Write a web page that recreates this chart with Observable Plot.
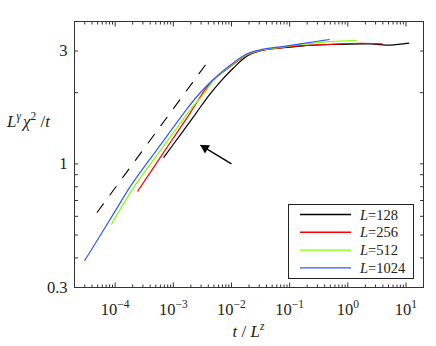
<!DOCTYPE html>
<html><head><meta charset="utf-8">
<script src="https://cdn.jsdelivr.net/npm/d3@7"></script>
<script src="https://cdn.jsdelivr.net/npm/@observablehq/plot@0.6"></script>
<style>body{margin:0;background:#fff} svg{display:block}</style>
</head><body><div id="chart"></div>
<script>
const seriesNames = ["128", "256", "512", "1024"];
const seriesColors = ["#000000", "#ff0000", "#80ff00", "#3355ff"];

const x128 = [6.86e-4, 1.33e-3, 2.4e-3, 4.07e-3, 6.47e-3, 1.08e-2, 1.86e-2, 3.59e-2, 6.95e-2, 0.153, 0.504, 2.45, 5.4, 11.2];
const y128 = [1.066, 1.33, 1.624, 1.945, 2.229, 2.542, 2.858, 3.03, 3.09, 3.15, 3.197, 3.216, 3.18, 3.24];
const x256 = [2.45e-4, 4.94e-4, 1e-3, 1.97e-3, 3.43e-3, 4.97e-3, 9.6e-3, 1.86e-2, 3.59e-2, 6.95e-2, 0.118, 0.441, 1.65, 3.9];
const y256 = [0.767, 0.993, 1.286, 1.648, 2.042, 2.273, 2.58, 2.886, 3.035, 3.09, 3.145, 3.197, 3.236, 3.219];
const x512 = [8.65e-5, 2.15e-4, 5.78e-4, 1.17e-3, 1.97e-3, 3.43e-3, 4.97e-3, 9.6e-3, 1.86e-2, 3.59e-2, 6.95e-2, 0.153, 0.48, 1.39];
const y512 = [0.556, 0.805, 1.127, 1.427, 1.697, 1.993, 2.262, 2.595, 2.9, 3.045, 3.11, 3.197, 3.29, 3.324];
const x1024 = [3.0e-5, 1.0e-4, 1.84e-4, 4.94e-4, 1.0e-3, 1.68e-3, 2.93e-3, 4.97e-3, 9.6e-3, 1.86e-2, 3.59e-2, 6.95e-2, 0.153, 0.301, 0.48];
const y1024 = [0.39, 0.631, 0.805, 1.127, 1.427, 1.697, 2.003, 2.284, 2.618, 2.92, 3.06, 3.126, 3.219, 3.3, 3.357];

const dashX = [4.91e-5, 3.82e-3];
const dashY = [0.624, 2.68];
const arrowFrom = [1e-2, 1.0];
const arrowTo = [2.93e-3, 1.2];

const xMajor = [1e-4, 1e-3, 1e-2, 1e-1, 1, 10];
const xTickLabels = ["10^−4", "10^−3", "10^−2", "10^−1", "10^0", "10^1"];
const yTicks = [0.3, 0.4, 0.5, 0.6, 0.7, 0.8, 0.9, 1, 2, 3, 4];
const yLabelValues = [0.3, 1, 3];
const yTickLabels = ["0.3", "1", "3"];

const xMinor = [];
for (const d of [1e-5, 1e-4, 1e-3, 1e-2, 1e-1, 1, 10]) for (let k = 2; k <= 9; k++) {
  const v = +(d * k).toPrecision(3);
  if (v >= 2e-5 && v <= 20) xMinor.push(v);
}

const xs = [x128, x256, x512, x1024], ys = [y128, y256, y512, y1024];
const data = [];
xs.forEach((xa, s) => xa.forEach((x, i) => data.push({series: seriesNames[s], x, y: ys[s][i]})));
const dash = dashX.map((x, i) => ({x, y: dashY[i]}));
const arrow = [{x1: arrowFrom[0], y1: arrowFrom[1], x2: arrowTo[0], y2: arrowTo[1]}];

const serif = '"Liberation Serif", "DejaVu Serif", serif';
const axisColor = "#333";

const plot = Plot.plot({
  width: 436, height: 346,
  marginLeft: 74, marginRight: 13, marginTop: 21, marginBottom: 59,
  style: {fontFamily: serif, background: "white", color: "black"},
  x: {type: "log", domain: [2e-5, 20]},
  y: {type: "log", domain: [0.3, 4]},
  color: {domain: seriesNames, range: seriesColors},
  marks: [
    Plot.line(dash, {x: "x", y: "y", stroke: "black", strokeWidth: 1.1, strokeDasharray: "10.5,11"}),
    Plot.line(data, {x: "x", y: "y", z: "series", stroke: "series", strokeWidth: 1.2, curve: "catmull-rom"}),
    Plot.link(arrow, {x1: "x1", y1: "y1", x2: "x2", y2: "y2", stroke: "black", strokeWidth: 1.3}),
    Plot.dot(arrow, {x: "x2", y: "y2", symbol: "triangle", r: 3.6, rotate: -58.5, fill: "black", stroke: "none", dx: 4.6, dy: 2.8}),
    Plot.frame({stroke: axisColor}),
    Plot.axisX({anchor: "bottom", ticks: xMinor, tickSize: -2.5, tickFormat: () => "", label: null, stroke: axisColor}),
    Plot.axisX({anchor: "top", ticks: xMinor, tickSize: -2.5, tickFormat: () => "", label: null, stroke: axisColor}),
    Plot.axisX({anchor: "bottom", ticks: xMajor, tickSize: -4.5, tickFormat: () => "", label: null, stroke: axisColor}),
    Plot.axisX({anchor: "top", ticks: xMajor, tickSize: -4.5, tickFormat: () => "", label: null, stroke: axisColor}),
    Plot.axisY({anchor: "left", ticks: yTicks, tickSize: -4, tickFormat: () => "", label: null, stroke: axisColor}),
    Plot.axisY({anchor: "right", ticks: yTicks, tickSize: -4, tickFormat: () => "", label: null, stroke: axisColor}),
    Plot.text(xMajor, {x: d => d, text: (d, i) => xTickLabels[i], frameAnchor: "bottom", lineAnchor: "top", dy: 15.5, fontSize: 16.5, fontFamily: serif, fill: "#222"}),
    Plot.text(yLabelValues, {y: d => d, text: (d, i) => yTickLabels[i], frameAnchor: "left", textAnchor: "end", dx: -7, fontSize: 16.5, fontFamily: serif, fill: "#222"})
  ]
});
document.getElementById("chart").appendChild(plot);

const svg = d3.select(plot);
svg.selectAll("text").each(function() {
  const t = this.textContent;
  if (t.includes("^") && this.children.length === 0) {
    const [base, sup] = t.split("^");
    this.textContent = "";
    const sel = d3.select(this);
    sel.append("tspan").text(base);
    sel.append("tspan").attr("dy", -7).attr("font-size", 11.5).text(sup);
  }
});

const xl = svg.append("text").attr("x", 248.5).attr("y", 337).attr("text-anchor", "middle")
  .attr("font-family", serif).attr("font-size", 17).attr("fill", "#222");
xl.append("tspan").attr("font-style", "italic").text("t");
xl.append("tspan").text(" / ");
xl.append("tspan").attr("font-style", "italic").text("L");
xl.append("tspan").attr("font-style", "italic").attr("font-size", 11.5).attr("dy", -7).text("z");

const yl = svg.append("text").attr("x", 7).attr("y", 127).attr("text-anchor", "start")
  .attr("font-family", serif).attr("font-size", 17).attr("fill", "#222");
yl.append("tspan").attr("font-style", "italic").text("L");
yl.append("tspan").attr("font-style", "italic").attr("font-size", 11.5).attr("dy", -7).text("γ");
yl.append("tspan").attr("font-style", "italic").attr("dy", 7).attr("dx", 2).text("χ");
yl.append("tspan").attr("font-size", 11.5).attr("dy", -7).text("2");
yl.append("tspan").attr("dy", 7).text(" /");
yl.append("tspan").attr("font-style", "italic").text("t");

const lg = svg.append("g");
lg.append("rect").attr("x", 288.5).attr("y", 204.5).attr("width", 125).attr("height", 74)
  .attr("fill", "white").attr("stroke", "#222").attr("stroke-width", 1);
seriesNames.forEach((name, i) => {
  const yy = 214.5 + i * 17.8;
  lg.append("line").attr("x1", 300).attr("x2", 351).attr("y1", yy).attr("y2", yy)
    .attr("stroke", seriesColors[i]).attr("stroke-width", 1.4);
  const tx = lg.append("text").attr("x", 360).attr("y", yy + 5).attr("text-anchor", "start")
    .attr("font-family", serif).attr("font-size", 14.5).attr("fill", "#222");
  tx.append("tspan").attr("font-style", "italic").text("L");
  tx.append("tspan").text("=" + name);
});
</script>
</body></html>
